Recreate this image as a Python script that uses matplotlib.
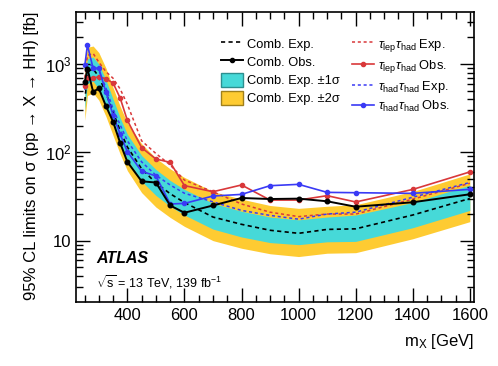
import numpy as np
import matplotlib
matplotlib.use("Agg")
import matplotlib.pyplot as plt
from matplotlib.patches import Patch
from matplotlib.lines import Line2D
from matplotlib.ticker import FixedLocator, MultipleLocator, FuncFormatter, LogLocator, NullFormatter

plt.rcParams['font.family'] = ['Liberation Sans', 'DejaVu Sans']
plt.rcParams['mathtext.fontset'] = 'custom'
plt.rcParams['mathtext.rm'] = 'Liberation Sans'
plt.rcParams['mathtext.it'] = 'Liberation Sans:italic'
plt.rcParams['mathtext.bf'] = 'Liberation Sans:bold'

# --- Data ---
masses = [251, 260, 280, 300, 325, 350, 375, 400, 450, 500, 550, 600,
          700, 800, 900, 1000, 1100, 1200, 1400, 1600]

comb_exp = [380, 820, 880, 720, 470, 285, 175, 115, 65, 45, 34, 27,
            18.5, 15.3, 13.1, 12.1, 13.4, 13.6, 19.5, 30]
comb_p2 = [1000, 1550, 1600, 1350, 900, 540, 330, 215, 125, 86, 65, 52,
           36, 29.5, 25, 23.2, 24.5, 25.5, 36, 57]
comb_p1 = [700, 1150, 1200, 1000, 660, 400, 245, 160, 92, 64, 48, 38,
           26.5, 21.5, 18.5, 17.2, 18.5, 19.5, 27, 42.5]
comb_m1 = [300, 600, 640, 520, 340, 205, 126, 82, 47, 32.5, 24.5, 19.5,
           13.5, 11, 9.5, 9.0, 9.7, 9.8, 14, 22]
comb_m2 = [230, 440, 470, 390, 255, 155, 95, 62, 35, 24, 18.3, 14.5,
           10, 8.2, 7.1, 6.6, 7.2, 7.3, 10.5, 16.4]
comb_obs = [630, 890, 485, 530, 334, 222, 127, 78, 47, 45.5, 25, 20.7,
            25, 30.4, 29.6, 29.9, 27.9, 24.2, 27.2, 33.5]

lephad_exp = [700, 1250, 1320, 1050, 820, 690, 520, 350, 135, 97, 72, 48.5,
              35.8, 26, 21, 18.7, 20, 20, 29.5, 44.6]
lephad_obs = [570, 700, 690, 720, 680, 610, 410, 230, 113, 84, 77, 42,
              35.8, 42.7, 28.8, 28.8, 32.3, 27.4, 38, 60]

hadhad_exp = [510, 1000, 950, 850, 535, 309, 204, 135, 78, 55, 42.7, 34.4,
              27.5, 22, 19.3, 17.5, 20, 21, 31, 45.5]
hadhad_obs = [970, 1640, 895, 895, 480, 264, 160, 102, 61, 54, 26, 26.4,
              32, 33.4, 41.9, 43.4, 35.2, 34.9, 34.3, 38.1]

# --- Colours ---
c_1s = '#46d9d8'
c_2s = '#fecb32'
c_red = '#d9383a'
c_blue = '#3a3af5'

fig = plt.figure(figsize=(4.98, 3.66), dpi=100)
ax = fig.add_axes([0.1526, 0.175, 0.7994, 0.792])

ax.fill_between(masses, comb_m2, comb_p2, color=c_2s, lw=0)
ax.fill_between(masses, comb_m1, comb_p1, color=c_1s, lw=0)

ax.plot(masses, comb_exp, color='black', ls=(0, (2.5, 2)), lw=1.2)
ax.plot(masses, lephad_exp, color=c_red, ls=(0, (2, 1.8)), lw=1.1)
ax.plot(masses, hadhad_exp, color=c_blue, ls=(0, (2, 1.8)), lw=1.1)
ax.plot(masses, lephad_obs, color=c_red, lw=1.2, marker='o', ms=3)
ax.plot(masses, hadhad_obs, color=c_blue, lw=1.2, marker='o', ms=3)
ax.plot(masses, comb_obs, color='black', lw=1.4, marker='o', ms=3.3)

ax.set_yscale('log')
ax.set_xlim(220, 1615)
ax.set_ylim(2.02, 3880)

# ticks ROOT style
ax.xaxis.set_major_locator(MultipleLocator(200))
ax.xaxis.set_minor_locator(MultipleLocator(50))
ax.yaxis.set_major_locator(FixedLocator([10, 100, 1000]))
ax.yaxis.set_minor_locator(LogLocator(base=10, subs=np.arange(2, 10)))
ax.yaxis.set_minor_formatter(NullFormatter())

def ylab(v, pos):
    if abs(v - 10) < 1e-6:
        return '10'
    return r'$10^{%d}$' % int(round(np.log10(v)))

ax.yaxis.set_major_formatter(FuncFormatter(ylab))
ax.tick_params(which='both', direction='in', top=True, right=True,
               labelsize=12, width=1)
ax.tick_params(which='major', length=10)
ax.tick_params(which='minor', length=5)
ax.tick_params(axis='x', pad=4)
for s in ax.spines.values():
    s.set_linewidth(1.2)

ax.set_xlabel(r'm$_{\rm X}$ [GeV]', fontsize=12, loc='right', labelpad=7)
ax.set_ylabel('95% CL limits on σ (pp → X → HH) [fb]',
              fontsize=12, loc='top', labelpad=4)

ax.text(0.05, 0.135, 'ATLAS', transform=ax.transAxes, fontsize=11.5,
        fontweight='bold', fontstyle='italic')
ax.text(0.05, 0.05, r'$\sqrt{\rm s}$ = 13 TeV, 139 fb$^{-1}$', transform=ax.transAxes,
        fontsize=9)

handles = [
    Line2D([], [], color='black', ls=(0, (2.5, 2)), lw=1.2),
    Line2D([], [], color='black', lw=1.4, marker='o', ms=3),
    Patch(facecolor=c_1s, edgecolor='#2d8f8f', lw=1),
    Patch(facecolor=c_2s, edgecolor='#a0801c', lw=1),
    Line2D([], [], color=c_red, ls=(0, (2, 1.8)), lw=1.1),
    Line2D([], [], color=c_red, lw=1.2, marker='o', ms=3),
    Line2D([], [], color=c_blue, ls=(0, (2, 1.8)), lw=1.1),
    Line2D([], [], color=c_blue, lw=1.2, marker='o', ms=3),
]
labels = [
    'Comb. Exp.', 'Comb. Obs.', 'Comb. Exp. ±1σ', 'Comb. Exp. ±2σ',
    r'$\tau_{\rm lep}\tau_{\rm had}$ Exp.', r'$\tau_{\rm lep}\tau_{\rm had}$ Obs.',
    r'$\tau_{\rm had}\tau_{\rm had}$ Exp.', r'$\tau_{\rm had}\tau_{\rm had}$ Obs.',
]
ax.legend(handles, labels, ncol=2, loc='upper left', bbox_to_anchor=(0.335, 0.955),
          frameon=False, fontsize=9.3, handlelength=1.7, handleheight=1.3,
          columnspacing=0.9, labelspacing=0.28, handletextpad=0.35)

fig.savefig('out.png', dpi=100)
